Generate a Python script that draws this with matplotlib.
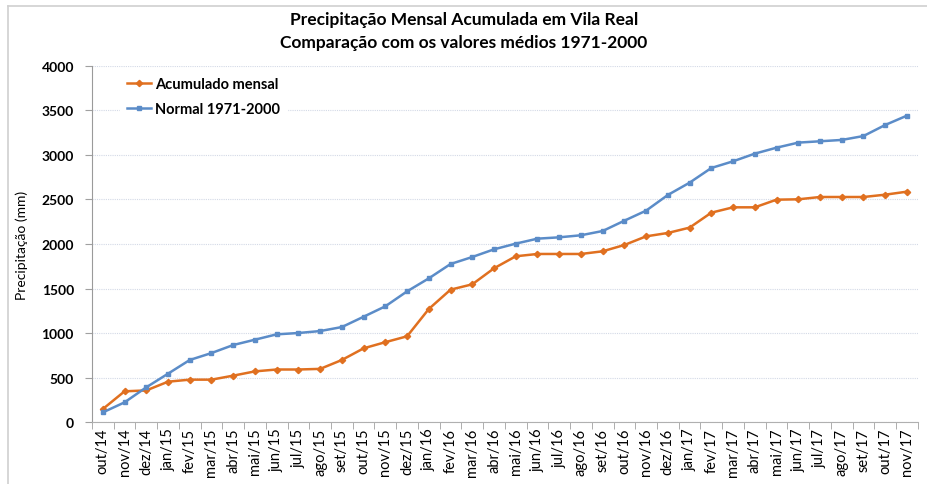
import numpy as np
import matplotlib
matplotlib.use("Agg")
import matplotlib.pyplot as plt
from matplotlib.ticker import FixedLocator

# === DATA ===
months = ["out/14", "nov/14", "dez/14",
          "jan/15", "fev/15", "mar/15", "abr/15", "mai/15", "jun/15",
          "jul/15", "ago/15", "set/15", "out/15", "nov/15", "dez/15",
          "jan/16", "fev/16", "mar/16", "abr/16", "mai/16", "jun/16",
          "jul/16", "ago/16", "set/16", "out/16", "nov/16", "dez/16",
          "jan/17", "fev/17", "mar/17", "abr/17", "mai/17", "jun/17",
          "jul/17", "ago/17", "set/17", "out/17", "nov/17"]

acumulado = [146, 345, 355, 453, 476, 476, 521, 569, 590, 590, 597, 697, 828, 897, 963,
             1270, 1487, 1547, 1727, 1862, 1888, 1888, 1888, 1918, 1989, 2086, 2124,
             2184, 2352, 2412, 2412, 2498, 2502, 2528, 2528, 2528, 2554, 2588]

normal = [108, 221, 390, 543, 697, 775, 865, 925, 985, 1000, 1022, 1067, 1183, 1300, 1468,
          1614, 1775, 1854, 1940, 2004, 2060, 2075, 2098, 2146, 2262, 2375, 2551,
          2689, 2854, 2929, 3015, 3082, 3139, 3154, 3169, 3213, 3337, 3442]

y_ticks = [0, 500, 1000, 1500, 2000, 2500, 3000, 3500, 4000]

# === PLOT ===
plt.rcParams["font.family"] = ["Lato", "DejaVu Sans"]
fig = plt.figure(figsize=(9.28, 4.85), dpi=100, facecolor="white")
ax = fig.add_axes([0.0991, 0.1278, 0.8899, 0.7341])

# chart-area border (top and left)
fig.add_artist(plt.Line2D([8/928, 1.0], [1 - 7/485, 1 - 7/485], color="#d0d0d0", lw=1.2))
fig.add_artist(plt.Line2D([8/928, 8/928], [0.0, 1 - 7/485], color="#d0d0d0", lw=1.2))

x = np.arange(len(months))
ax.plot(x, acumulado, color="#E07020", lw=1.8, marker="D", ms=3.2,
        label="Acumulado mensal", zorder=3)
ax.plot(x, normal, color="#5B8CC8", lw=1.8, marker="s", ms=3.2,
        label="Normal 1971-2000", zorder=3)

ax.set_xlim(-0.5, len(months) - 0.5)
ax.set_ylim(0, 4000)
ax.set_yticks(y_ticks)
ax.set_yticklabels([str(v) for v in y_ticks], fontsize=10, fontweight="bold")
ax.set_xticks(x)
ax.set_xticklabels(months, rotation=90, fontsize=10.5)
ax.xaxis.set_minor_locator(FixedLocator(np.arange(-0.5, len(months), 1.0)))
ax.tick_params(axis="x", which="major", length=0, pad=4)
ax.tick_params(axis="x", which="minor", length=5, color="#a0a0a0")
ax.tick_params(axis="y", length=5, color="#a0a0a0", pad=8)

ax.grid(axis="y", color="#d3d9e6", linestyle=(0, (1, 1)), lw=0.8)
ax.set_axisbelow(True)
for side in ["top", "right"]:
    ax.spines[side].set_visible(False)
ax.spines["left"].set_color("#9a9a9a")
ax.spines["bottom"].set_color("#b0b0b0")

ax.set_ylabel("Precipitação (mm)", fontsize=10, labelpad=10)
fig.suptitle("Precipitação Mensal Acumulada em Vila Real\nComparação com os valores médios 1971-2000",
             fontsize=12.5, fontweight="bold", y=0.975, linespacing=1.5)

leg = ax.legend(loc="upper left", bbox_to_anchor=(0.025, 1.01), frameon=True,
                prop={"size": 10.5, "weight": "bold"}, handlelength=1.6,
                handletextpad=0.3, labelspacing=0.75, borderpad=0.5)
leg.get_frame().set_edgecolor("white")
leg.get_frame().set_facecolor("white")
leg.get_frame().set_alpha(1.0)

fig.savefig("out.png", dpi=100, facecolor="white")
